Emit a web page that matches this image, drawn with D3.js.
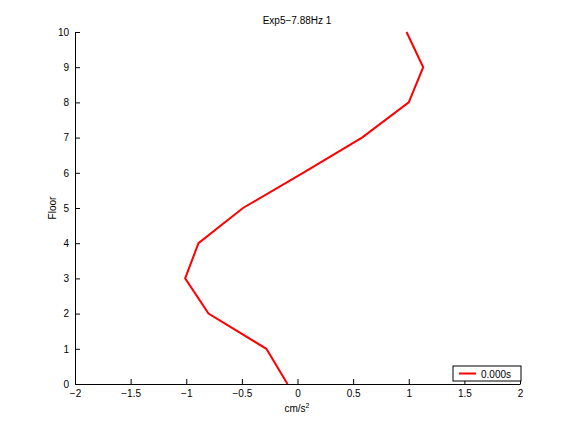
<!DOCTYPE html>
<html>
<head>
<meta charset="utf-8">
<script src="https://cdn.jsdelivr.net/npm/d3@7"></script>
<style>
  body { margin: 0; background: #fff; }
  text { font-family: "Liberation Sans", Arial, sans-serif; font-size: 10px; fill: #000; }
</style>
</head>
<body>
<svg id="chart" width="576" height="432"></svg>
<script>
// data: acceleration per floor
var floors = [0, 1, 2, 3, 4, 5, 6, 7, 8, 9, 10];
var accel = [-0.09, -0.28, -0.80, -1.01, -0.89, -0.49, 0.05, 0.58, 1.00, 1.13, 0.98];
var xTicks = [-2, -1.5, -1, -0.5, 0, 0.5, 1, 1.5, 2];
var yTicks = [0, 1, 2, 3, 4, 5, 6, 7, 8, 9, 10];
var legendLabel = "0.000s";
var titleText = "Exp5\u22127.88Hz 1";

var svg = d3.select("#chart");
var m_left = 75, m_right = 520, m_top = 32, m_bottom = 384;

var x = d3.scaleLinear().domain([-2, 2]).range([m_left, m_right]);
var y = d3.scaleLinear().domain([0, 10]).range([m_bottom, m_top]);

function fmt(d) { return d < 0 ? "\u2212" + Math.abs(d) : String(d); }

// x axis (ticks inside)
var gx = svg.append("g").attr("transform", "translate(0," + m_bottom + ")")
  .call(d3.axisBottom(x).tickValues(xTicks).tickSizeInner(-5).tickSizeOuter(0).tickPadding(6).tickFormat(fmt));
gx.select(".domain").attr("stroke", "#000");
gx.selectAll("text").attr("font-size", 10).attr("font-family", "Liberation Sans, Arial, sans-serif");

// y axis
var gy = svg.append("g").attr("transform", "translate(" + m_left + ",0)")
  .call(d3.axisLeft(y).tickValues(yTicks).tickSizeInner(-5).tickSizeOuter(0).tickPadding(6));
gy.select(".domain").attr("stroke", "#000");
gy.selectAll("text").attr("font-size", 10).attr("font-family", "Liberation Sans, Arial, sans-serif");

// line
var line = d3.line()
  .x(function(d, i) { return x(accel[i]); })
  .y(function(d) { return y(d); });
svg.append("path")
  .datum(floors)
  .attr("d", line)
  .attr("fill", "none")
  .attr("stroke", "#ff0000")
  .attr("stroke-width", 2);

// title and labels
svg.append("text").attr("x", 297).attr("y", 24).attr("text-anchor", "middle").text(titleText);
var xl = svg.append("text").attr("x", 297).attr("y", 412).attr("text-anchor", "middle");
xl.append("tspan").text("cm/s");
xl.append("tspan").attr("dy", -4).attr("font-size", 7).text("2");
svg.append("text")
  .attr("transform", "translate(56," + y(5) + ") rotate(-90)")
  .attr("text-anchor", "middle").text("Floor");

// legend
var lg = svg.append("g").attr("transform", "translate(453,366)");
lg.append("rect").attr("width", 68).attr("height", 15)
  .attr("fill", "#fff").attr("stroke", "#000").attr("stroke-width", 1);
lg.append("line").attr("x1", 6).attr("x2", 23).attr("y1", 7.5).attr("y2", 7.5)
  .attr("stroke", "#ff0000").attr("stroke-width", 2);
lg.append("text").attr("x", 28).attr("y", 11.5).text(legendLabel);
</script>
</body>
</html>
